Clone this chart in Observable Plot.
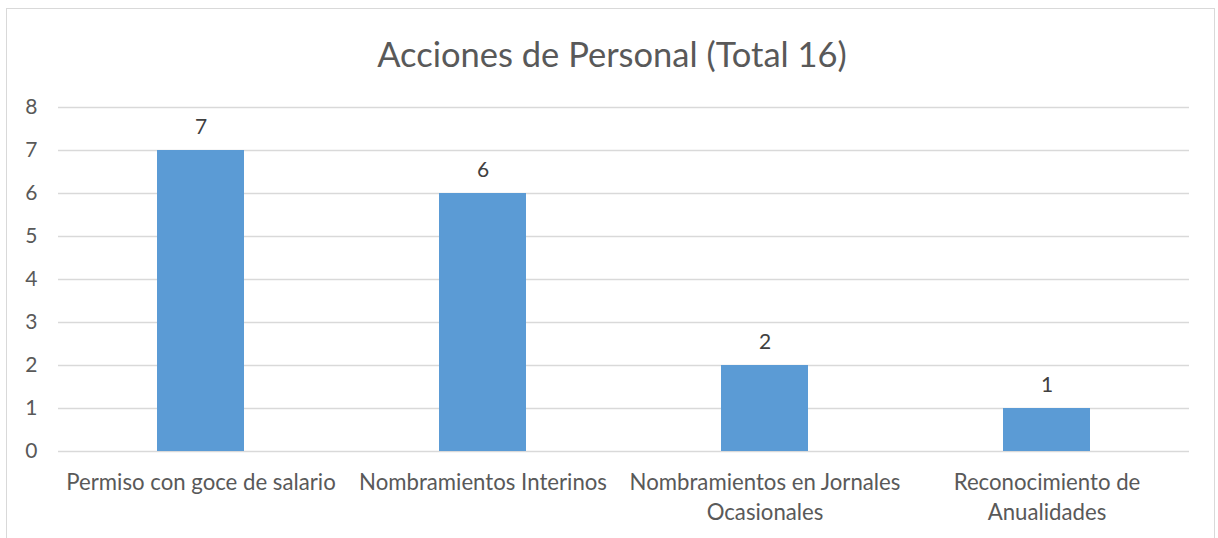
<!DOCTYPE html>
<html>
<head>
<meta charset="utf-8">
<script src="https://cdn.jsdelivr.net/npm/d3@7"></script>
<script src="https://cdn.jsdelivr.net/npm/@observablehq/plot@0.6"></script>
<style>
  html, body { margin: 0; padding: 0; background: #fff; }
  body { position: relative; width: 1218px; height: 538px; overflow: hidden; font-family: Lato, "Open Sans", sans-serif; }
  #frame { position: absolute; left: 6px; top: 8px; width: 1209px; height: 560px; border: 1.5px solid #d9d9d9; box-sizing: border-box; }
  #title { position: absolute; left: 0; top: 34px; width: 1224px; text-align: center; font-size: 34.5px; color: #595959; line-height: 40px; }
  #chart { position: absolute; left: 0; top: 90px; }
</style>
</head>
<body>
<div id="frame"></div>
<div id="title">Acciones de Personal (Total 16)</div>
<div id="chart"></div>
<script>
const categories = [
  "Permiso con goce de salario",
  "Nombramientos Interinos",
  "Nombramientos en Jornales Ocasionales",
  "Reconocimiento de Anualidades"
];
const values = [7, 6, 2, 1];
const tickLabels = {
  "Permiso con goce de salario": "Permiso con goce de salario",
  "Nombramientos Interinos": "Nombramientos Interinos",
  "Nombramientos en Jornales Ocasionales": "Nombramientos en Jornales\nOcasionales",
  "Reconocimiento de Anualidades": "Reconocimiento de\nAnualidades"
};
const yTicks = [0, 1, 2, 3, 4, 5, 6, 7, 8];

const data = categories.map((c, i) => ({category: c, value: values[i]}));

const chart = Plot.plot({
  width: 1218,
  height: 448,
  marginLeft: 58,
  marginRight: 29,
  marginTop: 17,
  marginBottom: 87,
  style: {fontFamily: "Lato, 'Open Sans', sans-serif", fontSize: "21px", color: "#595959", background: "transparent"},
  x: {domain: categories, paddingInner: 0.69, paddingOuter: 0.345, align: 0.5, label: null},
  y: {domain: [0, 8], label: null},
  marks: [
    Plot.gridY(yTicks, {stroke: "#d9d9d9", strokeOpacity: 1, strokeWidth: 1.3}),
    Plot.barY(data, {x: "category", y: "value", fill: "#5b9bd5"}),
    Plot.text(data, {x: "category", y: "value", text: d => String(d.value), dy: -23, fill: "#404040", fontSize: 21}),
    Plot.axisY(yTicks, {tickSize: 0, tickPadding: 21, fontSize: 21, fill: "#595959"}),
    Plot.axisX({tickSize: 0, tickPadding: 17, fontSize: 22.2, fill: "#595959", lineHeight: 1.36, tickFormat: d => tickLabels[d]})
  ]
});
document.getElementById("chart").appendChild(chart);
</script>
</body>
</html>
